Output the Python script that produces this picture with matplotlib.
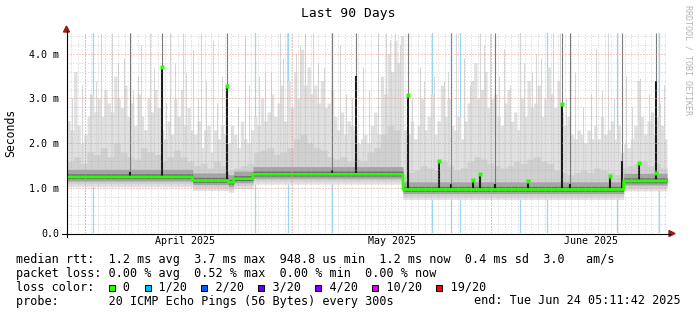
import numpy as np
import matplotlib
matplotlib.use("Agg")
import matplotlib.pyplot as plt
from matplotlib.lines import Line2D
from matplotlib.patches import Rectangle, Polygon

# ---- data (x in days since graph start, y in ms) ----
median_starts = [0, 18.85, 24.2, 25.0, 27.9, 50.4, 83.5]
median_levels = [1.25, 1.17, 1.13, 1.21, 1.31, 0.97, 1.16]

# outer smoke (max of the 20 pings), one value per half day
smoke_top = [
    2.5, 2.3, 3.6, 2.4, 2.0, 2.2, 2.6, 3.1, 2.7, 3.0,
    2.6, 3.2, 2.9, 2.7, 3.5, 3.0, 2.8, 3.3, 2.6, 2.9,
    2.4, 3.1, 2.6, 2.3, 3.0, 2.7, 3.2, 2.8, 2.3, 2.1,
    2.5, 2.2, 3.0, 2.6, 3.2, 2.4, 2.8, 2.3, 2.2, 2.5,
    1.9, 2.3, 2.4, 1.8, 2.3, 2.1, 2.4, 2.2, 2.0, 2.4,
    2.2, 1.9, 2.5, 2.1, 2.0, 2.3, 2.6, 2.4, 3.0, 2.5,
    2.7, 3.1, 2.6, 2.9, 3.3, 2.5, 3.4, 2.8, 3.6, 3.0,
    4.1, 3.3, 3.7, 3.1, 3.3, 2.9, 3.4, 2.8, 2.9, 3.2,
    2.6, 2.3, 2.7, 2.2, 2.5, 2.4, 2.3, 2.0, 2.1, 2.2,
    2.0, 2.4, 2.7, 2.2, 3.5, 3.1, 4.0, 3.6, 4.3, 3.8,
    4.4, 2.3, 2.2, 2.5, 2.1, 2.4, 3.0, 2.3, 2.6, 3.1,
    2.2, 2.5, 3.3, 2.6, 3.0, 2.4, 2.3, 2.6, 2.1, 2.5,
    2.9, 3.4, 3.8, 3.0, 3.2, 3.6, 2.8, 3.0, 3.1, 2.6,
    2.4, 2.9, 3.2, 2.5, 2.7, 2.3, 3.0, 2.6, 3.4, 2.8,
    2.9, 3.3, 2.6, 3.0, 3.7, 3.1, 2.8, 3.4, 2.7, 2.4,
    2.6, 2.2, 2.1, 2.3, 2.2, 2.0, 2.3, 2.1, 2.4, 2.1,
    2.6, 2.2, 2.3, 2.5, 2.1, 2.4, 1.8, 2.0, 1.9, 2.1,
    2.4, 3.4, 2.6, 2.2, 2.5, 2.7, 2.2, 2.6, 2.4, 2.1,
]

# inner smoke upper edge, one value per day
smoke_mid = [
    1.6, 1.7, 1.55, 1.8, 1.75, 1.9, 1.7, 2.0, 1.8, 1.7,
    1.65, 1.9, 1.8, 1.75, 1.6, 1.7, 1.85, 1.7, 1.6, 1.5,
    1.55, 1.45, 1.6, 1.5, 1.4, 1.45, 1.5, 1.55, 1.8, 1.85,
    1.9, 1.75, 1.8, 1.9, 2.1, 2.2, 2.0, 1.9, 1.85, 1.7,
    1.65, 1.7, 1.6, 1.65, 1.6, 1.8, 1.9, 2.2, 2.4, 2.3,
    1.3, 1.35, 1.4, 1.5, 1.45, 1.4, 1.6, 1.5, 1.4, 1.45,
    1.6, 1.7, 1.65, 1.55, 1.5, 1.45, 1.5, 1.6, 1.55, 1.65,
    1.7, 1.6, 1.55, 1.4, 1.35, 1.3, 1.35, 1.4, 1.35, 1.45,
    1.4, 1.35, 1.3, 1.45, 1.5, 1.55, 1.6, 1.5, 1.55, 1.45,
]

# thin light grey outliers
spike_days = [5.1, 6.8, 8.6, 11.1, 12.4, 15.4, 16.2, 17.4, 18.9, 20.1,
              21.9, 23.2, 26.7, 29.7, 31.9, 33.0, 34.3, 35.7, 36.9, 40.9,
              44.4, 46.6, 47.8, 49.2, 49.9, 52.9, 56.5, 58.3, 59.5, 61.9,
              63.4, 65.5, 67.9, 70.3, 72.9, 73.9, 76.2, 79.3, 81.2, 83.9,
              86.0, 89.5,
              0.8, 2.3, 3.4, 4.4, 7.6, 9.9, 10.6, 13.0, 14.8, 17.9,
              19.6, 20.8, 22.5, 25.6, 27.3, 28.8, 30.6, 32.4, 35.0, 37.6,
              38.6, 41.8, 42.7, 45.3, 48.5, 51.8, 53.6, 55.1, 57.1, 60.4,
              62.6, 64.8, 66.4, 68.6, 69.8, 71.1, 74.8, 77.4, 78.6, 80.3,
              82.0, 84.8, 87.3, 88.9]
spike_tops = [4.45, 4.45, 3.9, 4.2, 4.45, 4.45, 3.8, 4.45, 4.1, 4.45,
              4.3, 3.5, 4.4, 3.6, 4.45, 4.45, 4.0, 4.45, 4.45, 4.2,
              3.7, 4.45, 4.45, 4.45, 4.2, 3.7, 3.4, 4.45, 3.9, 4.45,
              4.45, 4.1, 4.45, 4.0, 4.45, 4.45, 3.6, 4.1, 4.45, 3.5,
              3.45, 3.3,
              3.0, 3.3, 3.1, 3.4, 3.8, 3.2, 3.5, 3.7, 2.9, 3.6,
              3.0, 3.4, 2.9, 2.8, 3.3, 3.5, 3.6, 3.9, 4.2, 3.8,
              3.7, 3.1, 3.0, 3.2, 4.3, 3.0, 3.4, 3.5, 3.6, 3.3,
              4.2, 3.5, 3.3, 3.8, 3.6, 3.9, 3.0, 2.8, 3.1, 3.2,
              3.0, 2.8, 3.1, 2.9]

# dark (dense) smoke columns
dark_days = [9.5, 14.25, 23.95, 39.7, 43.4, 51.15, 55.75, 57.65, 60.9,
             61.9, 64.25, 69.2, 74.3, 75.45, 81.4, 83.2, 85.8, 88.4]
dark_tops = [1.35, 3.7, 3.27, 1.4, 3.5, 3.08, 1.6, 1.1, 1.19,
             1.32, 1.1, 1.15, 2.87, 1.1, 1.26, 1.6, 1.56, 3.4]
gray_tops = [4.46, 4.46, 4.46, 4.46, 4.46, 4.46, 0, 4.46, 0,
             0, 4.46, 0, 4.46, 4.46, 0, 4.46, 0, 4.46]
dot_vals = [None, 3.7, 3.27, None, None, 3.08, 1.6, None, 1.19,
            1.32, None, 1.15, 2.87, None, 1.26, None, 1.55, 1.34]

# columns with packet loss (1/20)
loss_days = [3.9, 28.2, 33.2, 39.7, 54.8, 57.65, 58.9, 67.9, 71.95, 82.45, 88.85]

month_starts = [2.65, 33.7, 63.65]
month_labels = ["April 2025", "May 2025", "June 2025"]
ytick_vals = [0, 1, 2, 3, 4]
ytick_labels = ["0.0", "1.0 m", "2.0 m", "3.0 m", "4.0 m"]

loss_names = ["0", "1/20", "2/20", "3/20", "4/20", "10/20", "19/20"]
loss_colors = ["#26ff00", "#00b8ff", "#0059ff", "#5e00ff", "#7e00ff", "#dd00ff", "#ff0000"]

W, H = 697, 315
MONO = "DejaVu Sans Mono"

fig = plt.figure(figsize=(W / 100, H / 100), dpi=100)
fig.patch.set_facecolor("white")
ax = fig.add_axes([67 / W, (H - 233) / H, 600 / W, 200 / H])
ax.set_xlim(0, 90)
ax.set_ylim(0, 4.46)
for s in ax.spines.values():
    s.set_visible(False)

# evaluate the series on a fine day grid
xf = np.append(np.arange(0, 90, 0.05), 90)
med = np.array(median_levels)[np.searchsorted(median_starts, xf, side="right") - 1]
top = np.array(smoke_top)[np.clip((xf / 0.5).astype(int), 0, len(smoke_top) - 1)]
mid = np.array(smoke_mid)[np.clip(xf.astype(int), 0, len(smoke_mid) - 1)]

# loss background lines (behind smoke)
for d in loss_days:
    ax.axvline(d, color="#9ad8f2", lw=0.9, zorder=1)

# smoke layers
ax.fill_between(xf, med - 0.22, top, step="post", color="#e0e0e0", lw=0, zorder=2)
ax.vlines(spike_days, np.interp(spike_days, xf, med), spike_tops, color="#d6d6d6", lw=0.75, zorder=2)
ax.fill_between(xf, med - 0.15, mid, step="post", color="#d0d0d0", lw=0, zorder=3)
ax.fill_between(xf, med - 0.09, med + 0.17, step="post", color="#a4a4a4", lw=0, zorder=4)
ax.fill_between(xf, med - 0.04, med + 0.07, step="post", color="#6c6c6c", lw=0, zorder=5)

# dense outlier columns
for d, dt, gt in zip(dark_days, dark_tops, gray_tops):
    m = np.interp(d, xf, med)
    if gt > 0:
        ax.vlines(d, dt, gt, color="#7a7a7a", lw=0.8, zorder=6)
    ax.vlines(d, m, dt, color="#1c1c1c", lw=1.5, zorder=6)

# grid on top of the smoke
minor_y = [v for v in np.arange(0.2, 4.46, 0.2) if abs(v - round(v)) > 0.01]
for v in minor_y:
    ax.axhline(v, color="#b0b0b0", lw=0.72, ls=(0, (1, 2)), alpha=0.6, zorder=7)
for v in ytick_vals[1:]:
    ax.axhline(v, color="#ee9090", lw=0.72, ls=(0, (1, 2)), zorder=7)
for d in np.arange(0.65, 90, 1.0):
    ax.axvline(d, color="#b0b0b0", lw=0.72, ls=(0, (1, 2)), alpha=0.6, zorder=7)
for d in month_starts:
    ax.axvline(d, color="#ee9090", lw=0.72, ls=(0, (1, 2)), zorder=7)

# median line
ax.step(xf, med, where="post", color="#26ff00", lw=1.9, zorder=8)
for d, dv in zip(dark_days, dot_vals):
    if dv is not None:
        ax.plot([d], [dv], marker="s", ms=2.4, color="#26ff00", mec="none", zorder=9)

# ticks and labels
ax.set_yticks(ytick_vals, ytick_labels, family=MONO, fontsize=7.2)
ax.set_xticks([d + 15 for d in month_starts], month_labels, family=MONO, fontsize=7.2)
ax.tick_params(axis="y", length=0, pad=5.5)
ax.tick_params(axis="x", length=0, pad=2.5)


def px(x, y):
    return x / W, 1 - y / H


def fig_line(x0, y0, x1, y1, **kw):
    fig.add_artist(Line2D([x0 / W, x1 / W], [1 - y0 / H, 1 - y1 / H],
                          transform=fig.transFigure, **kw))


# axes with rrdtool style arrows
fig_line(62, 233.5, 670, 233.5, color="black", lw=0.8)
fig_line(66.5, 237, 66.5, 31, color="black", lw=0.8)
fig.add_artist(Polygon([px(675, 233.5), px(669, 230.5), px(669, 236.5)],
                       closed=True, transform=fig.transFigure, color="#9b1c1c"))
fig.add_artist(Polygon([px(66.5, 26), px(63.5, 32), px(69.5, 32)],
                       closed=True, transform=fig.transFigure, color="#9b1c1c"))

fig.text(*px(348, 14), "Last 90 Days", ha="center", va="center", family=MONO, fontsize=9.4)
fig.text(*px(11, 132.5), "Seconds", ha="center", va="center", rotation=90, family=MONO, fontsize=8.3)
fig.text(*px(688, 60), "RRDTOOL / TOBI OETIKER", ha="center", va="center", rotation=270,
         family=MONO, fontsize=6, color="#b4b4b4")

# legend block
fs = 8.5
cw = 0.602 * fs * 100 / 72
line1 = "median rtt:  1.2 ms avg  3.7 ms max  948.8 us min  1.2 ms now  0.4 ms sd  3.0   am/s"
line2 = "packet loss: 0.00 % avg  0.52 % max  0.00 % min  0.00 % now"
line4 = "probe:       20 ICMP Echo Pings (56 Bytes) every 300s"
fig.text(*px(16, 259), line1, ha="left", va="center", family=MONO, fontsize=fs)
fig.text(*px(16, 273), line2, ha="left", va="center", family=MONO, fontsize=fs)
fig.text(*px(16, 301), line4, ha="left", va="center", family=MONO, fontsize=fs)
fig.text(*px(681, 301), "end: Tue Jun 24 05:11:42 2025", ha="right", va="center", family=MONO, fontsize=fs)

line3 = "loss color:  "
box_pos = []
for name in loss_names:
    box_pos.append(len(line3))
    line3 += "  " + name + "  "
line3 = line3.rstrip()
fig.text(*px(16, 287), line3, ha="left", va="center", family=MONO, fontsize=fs)
for i, c in zip(box_pos, loss_colors):
    x0 = 16 + i * cw + 0.6
    fig.add_artist(Rectangle(px(x0, 291), 6 / W, 6.5 / H, transform=fig.transFigure,
                             facecolor=c, edgecolor="black", lw=0.7))

fig.savefig("out.png", dpi=100)
